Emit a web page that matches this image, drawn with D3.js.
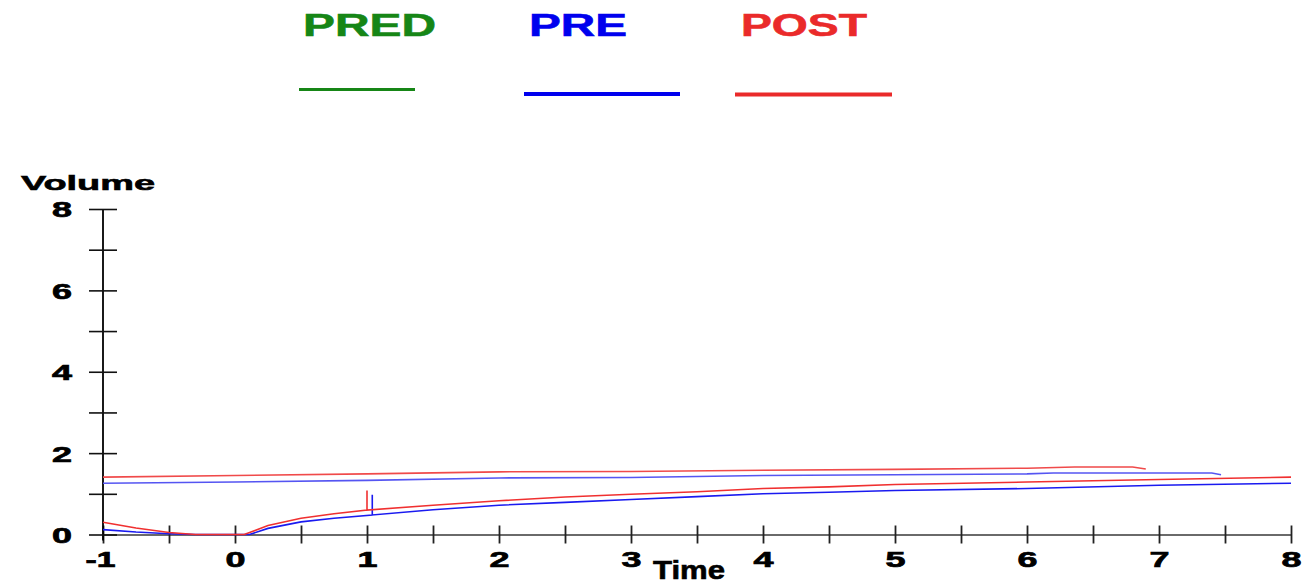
<!DOCTYPE html>
<html>
<head>
<meta charset="utf-8">
<script src="https://cdn.jsdelivr.net/npm/d3@7"></script>
<style>
  html, body { margin: 0; padding: 0; background: #fff; }
  svg { display: block; }
  text { font-family: "Liberation Sans", Arial, sans-serif; font-weight: bold; }
</style>
</head>
<body>
<svg id="chart" width="1312" height="585"></svg>
<script>
// ---- data ----
const seriesNames = ["PRED", "PRE", "POST"];
const seriesColors = ["#168616", "#0000ee", "#ea2a2a"];

// upper (plateau) traces
const preTopTime  = [-1, 0, 1, 2, 3, 4, 5, 6, 6.2, 7.4, 7.47];
const preTopVol   = [1.26, 1.29, 1.33, 1.39, 1.40, 1.45, 1.47, 1.49, 1.51, 1.51, 1.47];
const postTopTime = [-1, 0, 1, 2, 3, 4, 5, 6, 6.36, 6.8, 6.9];
const postTopVol  = [1.41, 1.45, 1.49, 1.54, 1.55, 1.58, 1.60, 1.63, 1.66, 1.66, 1.61];

// lower (rising) traces, incl. the vertical marker spike
const preTime  = [-1, -0.75, -0.5, -0.3, 0.11, 0.25, 0.5, 0.75, 1.04, 1.04, 1.04, 1.5, 2, 2.5, 3, 3.5, 4, 4.5, 5, 6, 7, 8];
const preVol   = [0.12, 0.06, 0.02, 0, 0, 0.15, 0.31, 0.40, 0.48, 0.98, 0.48, 0.61, 0.72, 0.79, 0.86, 0.93, 1.00, 1.04, 1.08, 1.13, 1.21, 1.26];
const postTime = [-1, -0.75, -0.5, -0.3, 0.07, 0.25, 0.5, 0.75, 1.0, 1.0, 1.0, 1.5, 2, 2.5, 3, 3.5, 4, 4.5, 5, 6, 7, 8];
const postVol  = [0.30, 0.16, 0.05, 0, 0, 0.22, 0.40, 0.51, 0.60, 1.08, 0.60, 0.72, 0.83, 0.92, 0.99, 1.05, 1.13, 1.17, 1.23, 1.29, 1.35, 1.41];

const xTicks = d3.range(-1, 8.001, 0.5);
const yTicks = d3.range(0, 8.001, 1);
const xLabel = "Time";
const yLabel = "Volume";

// ---- layout ----
const svg = d3.select("#chart");
const x = d3.scaleLinear().domain([-1, 8]).range([103, 1291]);
const y = d3.scaleLinear().domain([0, 8]).range([534.5, 209]);

// legend
const legTextX = [303, 529, 741];
const legTextW = [133, 98, 126];
const legLineX = [[299, 415], [524, 680], [735, 892]];
const legLineY = [89.5, 94, 94.5];
const legLineW = [3, 4, 4];
seriesNames.forEach((n, i) => {
  svg.append("text").attr("x", legTextX[i]).attr("y", 36)
    .attr("font-size", 32).attr("fill", seriesColors[i])
    .attr("stroke", seriesColors[i]).attr("stroke-width", 0.6)
    .attr("textLength", legTextW[i]).attr("lengthAdjust", "spacingAndGlyphs")
    .text(n);
  svg.append("line").attr("x1", legLineX[i][0]).attr("x2", legLineX[i][1])
    .attr("y1", legLineY[i]).attr("y2", legLineY[i])
    .attr("stroke", seriesColors[i]).attr("stroke-width", legLineW[i]);
});

// x axis
const gx = svg.append("g").attr("transform", `translate(0,${y(0)})`)
  .call(d3.axisBottom(x).tickValues(xTicks).tickSizeOuter(0)
    .tickFormat(d => Number.isInteger(d) ? String(d) : ""));
gx.select(".domain").attr("stroke", "#6a6a6a").attr("stroke-width", 2.2);
gx.selectAll(".tick line").attr("y1", -9).attr("y2", 9).attr("stroke", "#222").attr("stroke-width", 1.8);
gx.selectAll(".tick text").attr("y", 32).attr("dy", null)
  .attr("font-size", 22).attr("fill", "#000").attr("stroke", "#000").attr("stroke-width", 0.7)
  .attr("font-family", "Liberation Sans, Arial, sans-serif").attr("font-weight", "bold")
  .each(function(d) {
    const t = d3.select(this);
    if (Number.isInteger(d)) {
      t.attr("textLength", d < 0 ? 30 : 20).attr("lengthAdjust", "spacingAndGlyphs");
      if (d < 0) t.attr("x", -3);
    }
  });

// y axis
const gy = svg.append("g").attr("transform", `translate(${x(-1)},0)`)
  .call(d3.axisLeft(y).tickValues(yTicks).tickSizeOuter(0)
    .tickFormat(d => d % 2 === 0 ? String(d) : ""));
gy.select(".domain").attr("stroke", "#000").attr("stroke-width", 1.8)
  .attr("d", `M0,${y(8)}V${y(0) + 6}`);
gy.selectAll(".tick line").attr("x1", -14).attr("x2", 14).attr("stroke", "#111").attr("stroke-width", 1.6);
gy.selectAll(".tick text").attr("x", -31).attr("dy", "0.36em")
  .attr("font-size", 22).attr("fill", "#000").attr("stroke", "#000").attr("stroke-width", 0.7)
  .attr("font-family", "Liberation Sans, Arial, sans-serif").attr("font-weight", "bold")
  .each(function(d) {
    if (d % 2 === 0) d3.select(this).attr("textLength", 20).attr("lengthAdjust", "spacingAndGlyphs");
  });

// axis titles
svg.append("text").attr("x", 21).attr("y", 190).attr("font-size", 21)
  .attr("stroke", "#000").attr("stroke-width", 0.6)
  .attr("textLength", 134).attr("lengthAdjust", "spacingAndGlyphs").text(yLabel);
svg.append("text").attr("x", 653).attr("y", 579).attr("font-size", 25)
  .attr("stroke", "#000").attr("stroke-width", 0.6)
  .attr("textLength", 72).attr("lengthAdjust", "spacingAndGlyphs").text(xLabel);

// traces
const line = d3.line().x(d => x(d[0])).y(d => y(d[1]));
const traces = [
  [preTopTime, preTopVol, "#5555f2"],
  [postTopTime, postTopVol, "#f04a4a"],
  [preTime, preVol, "#1a1af0"],
  [postTime, postVol, "#f03030"]
];
traces.forEach(([t, v, s]) => {
  svg.append("path").datum(d3.zip(t, v))
    .attr("d", line).attr("fill", "none")
    .attr("stroke", s).attr("stroke-width", 1.6);
});
</script>
</body>
</html>
